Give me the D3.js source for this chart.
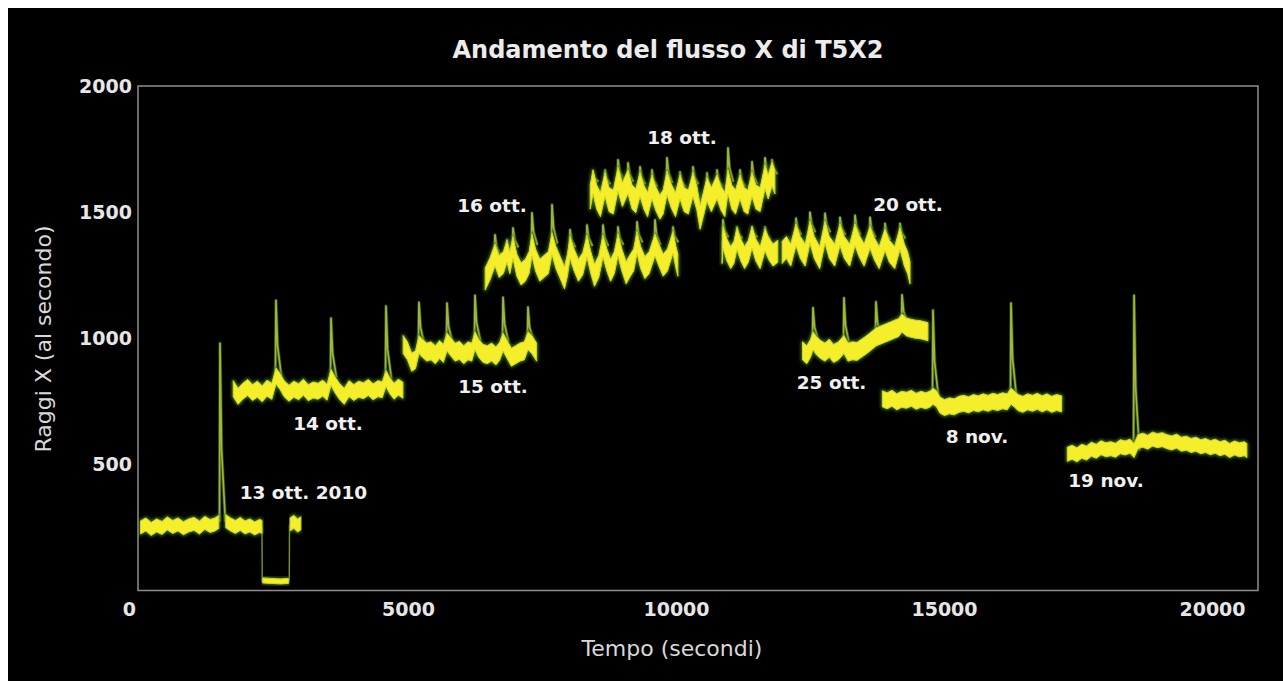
<!DOCTYPE html>
<html lang="it">
<head>
  <meta charset="UTF-8">
  <title>Andamento del flusso X di T5X2</title>
  <style>
    html, body { margin: 0; padding: 0; background: #fff; overflow: hidden; }
    svg { display: block; }
  </style>
</head>
<body>
  <svg id="chart" width="1283" height="681"></svg>

  <script src="https://d3js.org/d3.v7.min.js"></script>
  <script>
    // tick values
    const xTicks = [0, 5000, 10000, 15000, 20000];
    const yTicks = [500, 1000, 1500, 2000];

    // 13 ott. 2010 - [tempo (s), raggi X al secondo]
    const ott13a = [[10,250],[110,262],[210,244],[310,258],[410,248],[510,266],[610,252],[710,262],[810,247],[910,258],[1010,264],[1110,250],[1210,268],[1310,256],[1400,262],[1470,272]];
    const ott13b = [[1600,275],[1690,262],[1780,252],[1870,264],[1960,250],[2050,258],[2140,246],[2230,256],[2276,252]];
    const ott13low = [[2290,40],[2450,38],[2620,36],[2770,38]];
    const ott13c = [[2800,262],[2870,272],[2940,258],[3000,266]];
    const ott13drops = [[2276, 252, 36], [2785, 36, 262]];

    const ott14 = [[1740,800],[1830,770],[1920,790],[2010,805],[2100,785],[2190,798],[2280,780],[2370,802],[2460,790],[2537,850],[2610,830],[2690,800],[2780,782],[2870,798],[2960,788],[3050,806],[3140,784],[3230,795],[3320,790],[3410,802],[3490,786],[3564,845],[3640,815],[3720,790],[3810,770],[3900,800],[3990,785],[4080,798],[4170,792],[4260,805],[4350,788],[4440,800],[4520,796],[4590,840],[4660,812],[4740,790],[4820,806],[4905,794]];

    const ott15 = [[4910,975],[4990,950],[5070,905],[5140,915],[5205,975],[5270,960],[5350,945],[5430,950],[5510,935],[5590,955],[5660,940],[5728,985],[5800,965],[5880,945],[5960,952],[6040,935],[6120,950],[6190,945],[6250,990],[6320,960],[6400,940],[6480,935],[6560,945],[6640,930],[6710,948],[6773,985],[6850,955],[6930,925],[7010,935],[7090,945],[7170,950],[7239,990],[7310,975],[7400,945]];

    const ott16 = [[6440,1235],[6530,1275],[6623,1330],[6700,1285],[6780,1300],[6847,1345],[6900,1300],[6959,1360],[7030,1290],[7110,1255],[7190,1270],[7260,1300],[7313,1370],[7380,1310],[7460,1270],[7540,1285],[7620,1300],[7687,1375],[7760,1320],[7840,1280],[7920,1240],[7975,1290],[8023,1360],[8100,1310],[8180,1270],[8260,1295],[8340,1365],[8410,1300],[8480,1250],[8560,1285],[8638,1365],[8710,1310],[8780,1270],[8850,1300],[8918,1370],[8990,1310],[9070,1260],[9150,1290],[9210,1310],[9273,1380],[9340,1320],[9420,1280],[9500,1300],[9608,1370],[9680,1330],[9760,1290],[9840,1310],[9944,1380],[10000,1320],[10035,1290]];

    const ott18 = [[8400,1560],[8452,1620],[8520,1560],[8590,1530],[8676,1610],[8750,1550],[8830,1540],[8918,1630],[9000,1570],[9105,1620],[9180,1560],[9250,1545],[9329,1610],[9400,1560],[9470,1530],[9552,1600],[9620,1555],[9700,1520],[9760,1540],[9832,1615],[9910,1565],[9990,1530],[10075,1600],[10150,1550],[10230,1540],[10317,1610],[10390,1555],[10450,1480],[10510,1530],[10578,1590],[10660,1550],[10765,1600],[10840,1555],[10910,1530],[10970,1620],[11040,1560],[11110,1540],[11194,1600],[11270,1550],[11340,1540],[11418,1610],[11490,1560],[11570,1550],[11661,1640],[11720,1600],[11791,1650],[11845,1620]];

    const ott20a = [[10860,1340],[10877,1400],[10950,1350],[11020,1320],[11080,1340],[11138,1395],[11210,1350],[11280,1320],[11350,1345],[11418,1400],[11490,1350],[11570,1320],[11661,1390],[11730,1355],[11810,1330],[11900,1345]];
    const ott20b = [[11980,1340],[12060,1360],[12140,1330],[12239,1410],[12320,1360],[12410,1330],[12500,1420],[12580,1360],[12680,1320],[12780,1420],[12860,1360],[12960,1330],[13060,1410],[13140,1360],[13240,1330],[13340,1410],[13420,1365],[13510,1330],[13620,1400],[13700,1355],[13790,1320],[13900,1390],[13980,1345],[14080,1320],[14179,1395],[14260,1330],[14320,1300],[14366,1260]];

    const ott25 = [[12360,950],[12440,935],[12510,960],[12556,990],[12620,970],[12700,955],[12780,945],[12860,960],[12940,940],[13030,950],[13134,975],[13210,945],[13290,950],[13377,948],[13460,960],[13540,972],[13620,985],[13731,1005],[13810,1012],[13900,1020],[13993,1028],[14080,1036],[14150,1042],[14217,1060],[14300,1045],[14380,1040],[14460,1036],[14553,1034],[14630,1030],[14700,1026]];

    const nov8 = [[13850,760],[13940,752],[14030,762],[14120,748],[14210,758],[14300,754],[14390,762],[14480,750],[14570,758],[14660,752],[14750,760],[14795,770],[14860,760],[14925,735],[15010,725],[15100,732],[15190,728],[15280,738],[15370,742],[15460,736],[15550,745],[15640,740],[15730,748],[15820,742],[15910,750],[16000,745],[16090,752],[16180,748],[16250,770],[16320,758],[16380,745],[16470,738],[16560,748],[16650,742],[16740,750],[16830,740],[16920,748],[17010,738],[17100,745],[17195,740]];

    const nov19 = [[17300,540],[17390,548],[17480,538],[17570,552],[17660,545],[17750,560],[17840,552],[17930,566],[18020,558],[18110,562],[18200,556],[18290,570],[18380,565],[18470,572],[18546,555],[18620,590],[18710,596],[18800,588],[18890,600],[18980,594],[19070,598],[19160,590],[19250,585],[19340,592],[19430,580],[19520,584],[19610,575],[19700,580],[19790,570],[19880,575],[19970,566],[20060,572],[20150,562],[20240,568],[20330,555],[20420,565],[20510,558],[20600,562],[20650,555]];

    // brillamenti: [tempo, picco]
    const spikes13 = [[1493, 980]];
    const spikes14 = [[2537,1150],[3564,1079],[4590,1127]];
    const spikes15 = [[5205,1142],[5728,1139],[6250,1170],[6773,1162],[7239,1123]];
    const spikes16 = [[6623,1410],[6847,1390],[6959,1437],[7313,1497],[7687,1529],[8023,1430],[8340,1449],[8638,1449],[8918,1441],[9273,1461],[9608,1469],[9944,1441]];
    const spikes18 = [[8452,1659],[8676,1667],[8918,1707],[9105,1695],[9329,1679],[9552,1667],[9832,1715],[10075,1659],[10317,1679],[10578,1655],[10765,1667],[10970,1754],[11194,1667],[11418,1699],[11661,1715],[11791,1707]];
    const spikes20a = [[10877,1469],[11138,1441],[11418,1441],[11661,1441]];
    const spikes20b = [[12239,1475],[12500,1499],[12780,1495],[13060,1479],[13340,1487],[13620,1479],[13900,1455],[14179,1455]];
    const spikes25 = [[12556,1121],[13134,1160],[13731,1144],[14217,1172]];
    const spikes8n = [[14795,1111],[16250,1139]];
    const spikes19n = [[18546,1170]];

    // etichette delle osservazioni: [testo, tempo, raggi X]
    const dayLabels = [
      ["13 ott. 2010", 3050, 362],
      ["14 ott.", 3507, 636],
      ["15 ott.", 6586, 782],
      ["16 ott.", 6567, 1499],
      ["18 ott.", 10112, 1772],
      ["20 ott.", 14329, 1503],
      ["25 ott.", 12902, 798],
      ["8 nov.", 15616, 584],
      ["19 nov.", 18023, 410]
    ];

    // hw = half thickness of the drawn band, in pixels
    const traces = [
      { band: ott13a, spikes: spikes13, hw: 6.5 },
      { band: ott13b, spikes: [], hw: 6.5 },
      { band: ott13low, spikes: [], hw: 2.5 },
      { band: ott13c, spikes: [], hw: 6.5 },
      { band: ott14, spikes: spikes14, hw: 8 },
      { band: ott15, spikes: spikes15, hw: 9 },
      { band: ott16, spikes: spikes16, hw: 11 },
      { band: ott18, spikes: spikes18, hw: 12 },
      { band: ott20a, spikes: spikes20a, hw: 11 },
      { band: ott20b, spikes: spikes20b, hw: 11 },
      { band: ott25, spikes: spikes25, hw: 9 },
      { band: nov8, spikes: spikes8n, hw: 8 },
      { band: nov19, spikes: spikes19n, hw: 7 }
    ];

    const svg = d3.select('#chart');
    const W = 1283, H = 681;
    const font = '"DejaVu Sans", Verdana, sans-serif';

    // page margin + black panel
    svg.append('rect').attr('width', W).attr('height', H).attr('fill', '#fff');
    svg.append('rect').attr('x', 8).attr('y', 8).attr('width', W - 8).attr('height', H - 8).attr('fill', '#000');

    const plot = { left: 138, right: 1258, top: 86, bottom: 590.5 };

    const x = d3.scaleLinear().domain([-37, 20858]).range([plot.left, plot.right]);
    const y = d3.scaleLinear().domain([0, 2000]).range([plot.bottom, plot.top]);

    const defs = svg.append('defs');
    defs.append('filter').attr('id', 'glow')
      .attr('x', '-5%').attr('y', '-30%').attr('width', '110%').attr('height', '160%')
      .append('feGaussianBlur').attr('stdDeviation', 1.5);
    defs.append('clipPath').attr('id', 'clip')
      .append('rect')
      .attr('x', plot.left).attr('y', plot.top)
      .attr('width', plot.right - plot.left).attr('height', plot.bottom - plot.top);

    const line = d3.line().x(d => x(d[0])).y(d => y(d[1]));
    // band drawn as an area of fixed vertical thickness around the trace
    const bandArea = hw => d3.area()
      .x(d => x(d[0]))
      .y0(d => y(d[1]) + hw)
      .y1(d => y(d[1]) - hw);

    const g = svg.append('g').attr('clip-path', 'url(#clip)');

    // base value of the band near a spike
    const bis = d3.bisector(d => d[0]).center;
    function spikePath(band, s) {
      const base = band[bis(band, s[0])][1];
      const pts = [
        [s[0] - 10, base],
        [s[0], s[1]],
        [s[0] + 30, base + (s[1] - base) * 0.4],
        [s[0] + 100, base]
      ];
      return line(pts);
    }

    // thin lines: spikes and drops
    const thin = g.append('g').attr('fill', 'none').attr('stroke-linejoin', 'round');
    traces.forEach(tr => {
      tr.spikes.forEach(s => {
        thin.append('path').attr('d', spikePath(tr.band, s))
          .attr('stroke', '#2f5a1c').attr('stroke-width', 3.4).attr('opacity', 0.8);
        thin.append('path').attr('d', spikePath(tr.band, s))
          .attr('stroke', '#a3b43a').attr('stroke-width', 1.7);
      });
    });
    ott13drops.forEach(d => {
      thin.append('path').attr('d', line([[d[0], d[1]], [d[0] + 5, d[2]]]))
        .attr('stroke', '#6f8f2a').attr('stroke-width', 1.5);
    });

    // bands: green halo + yellow core
    const bands = g.append('g').attr('stroke-linejoin', 'round');
    traces.forEach(tr => {
      const area = bandArea(tr.hw);
      bands.append('path').attr('d', area(tr.band))
        .attr('fill', '#3a7424').attr('stroke', '#3a7424').attr('stroke-width', 3.5)
        .attr('filter', 'url(#glow)').attr('opacity', 0.9);
      bands.append('path').attr('d', area(tr.band))
        .attr('fill', '#f4ef2a').attr('stroke', '#d9d61f').attr('stroke-width', 1);
    });

    // frame
    svg.append('rect')
      .attr('x', plot.left).attr('y', plot.top)
      .attr('width', plot.right - plot.left).attr('height', plot.bottom - plot.top)
      .attr('fill', 'none').attr('stroke', '#8e8e8e').attr('stroke-width', 1.5);

    // axes
    const xAxis = svg.append('g')
      .attr('transform', `translate(0,${plot.bottom})`)
      .call(d3.axisBottom(x).tickValues(xTicks).tickSize(0).tickPadding(12.5).tickFormat(d3.format('d')));
    const yAxis = svg.append('g')
      .attr('transform', `translate(${plot.left},0)`)
      .call(d3.axisLeft(y).tickValues(yTicks).tickSize(0).tickPadding(6).tickFormat(d3.format('d')));

    [xAxis, yAxis].forEach(a => {
      a.select('.domain').remove();
      a.selectAll('text')
        .attr('fill', '#e6e6e6')
        .style('font-family', font)
        .style('font-size', '19px')
        .style('font-weight', 'bold');
    });
    // the "0" label sits a bit left of the frame corner in the original
    xAxis.selectAll('.tick').filter(d => d === 0).select('text').attr('dx', -11);

    // day annotations
    svg.append('g').selectAll('text').data(dayLabels).join('text')
      .attr('x', d => x(d[1]))
      .attr('y', d => y(d[2]))
      .attr('text-anchor', 'middle')
      .attr('fill', '#f0f0f0')
      .style('font-family', font)
      .style('font-size', '18.5px')
      .style('font-weight', 'bold')
      .text(d => d[0]);

    // titles
    svg.append('text')
      .attr('x', 668).attr('y', 58)
      .attr('text-anchor', 'middle')
      .attr('fill', '#ececec')
      .style('font-family', font).style('font-size', '24px').style('font-weight', 'bold')
      .text('Andamento del flusso X di T5X2');

    svg.append('text')
      .attr('x', 672).attr('y', 656)
      .attr('text-anchor', 'middle')
      .attr('fill', '#d9d9d9')
      .style('font-family', font).style('font-size', '22px')
      .text('Tempo (secondi)');

    svg.append('text')
      .attr('transform', 'translate(51,339) rotate(-90)')
      .attr('text-anchor', 'middle')
      .attr('fill', '#d9d9d9')
      .style('font-family', font).style('font-size', '22px')
      .text('Raggi X (al secondo)');
  </script>
</body>
</html>
